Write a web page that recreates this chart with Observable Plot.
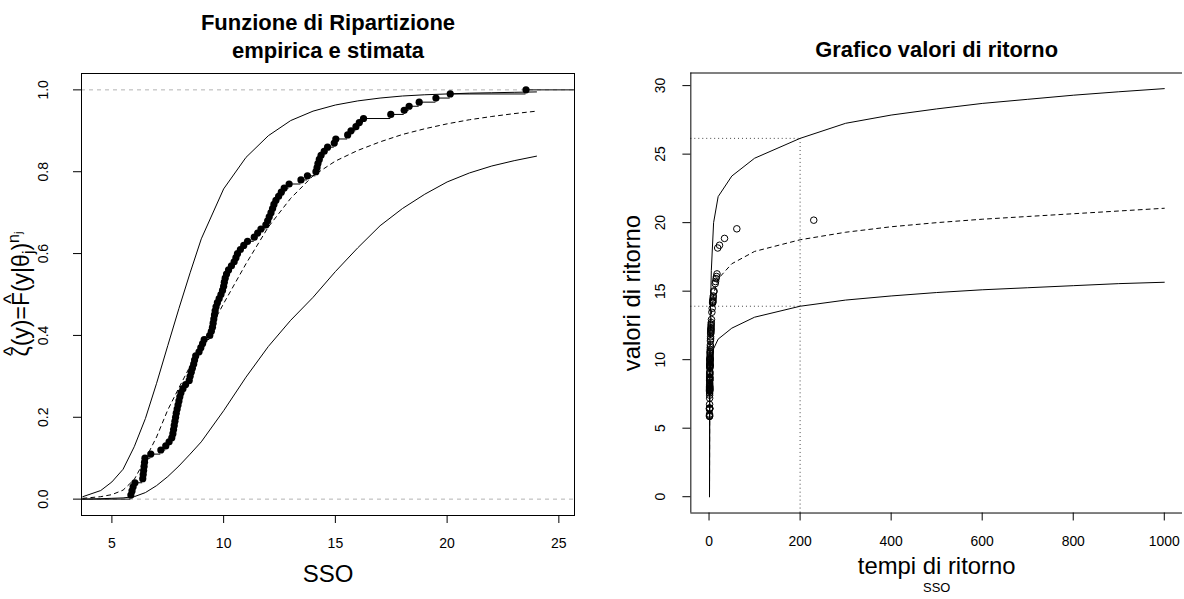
<!DOCTYPE html>
<html><head><meta charset="utf-8">
<script src="https://cdn.jsdelivr.net/npm/d3@7"></script>
<script src="https://cdn.jsdelivr.net/npm/@observablehq/plot@0.6"></script>
<style>
html,body{margin:0;padding:0;background:#fff;}
#wrap{display:flex;width:1184px;height:599px;overflow:hidden;}
.panel{width:592px;height:599px;overflow:hidden;flex:none;}
svg{display:block;}
</style></head><body>
<div id="wrap"><div class="panel" id="left"></div><div class="panel" id="right"></div></div>
<script>
const FONT = "Liberation Sans, Arial, Helvetica, sans-serif";

// ---------- Left panel data ----------
const leftTitle1 = "Funzione di Ripartizione";
const leftTitle2 = "empirica e stimata";
const leftXLabel = "SSO";
const leftYLabelMain = "ζ(y)=F(y|θ";
const leftYLabelHatAt = [0, 5];   // characters carrying a hat: ζ and F
const leftYLabelSub = "j";
const leftYLabelClose = ")";
const leftYLabelSup = "n";
const leftYLabelSupSub = "j";
const leftXDomain = [3.64, 25.7];
const leftYDomain = [-0.04, 1.04];
const leftXTicks = [5, 10, 15, 20, 25];
const leftYTicks = [0, 0.2, 0.4, 0.6, 0.8, 1.0];
const leftYTickLabels = ["0.0", "0.2", "0.4", "0.6", "0.8", "1.0"];
const refLines = [0, 1];

// sorted observations (empirical CDF)
const sso = [
  5.85, 5.90, 5.95, 6.03, 6.38, 6.40, 6.42, 6.44, 6.46, 6.48,
  6.74, 7.19, 7.41, 7.56, 7.68, 7.73, 7.76, 7.79, 7.82, 7.85,
  7.88, 7.92, 7.96, 8.00, 8.04, 8.09, 8.18, 8.30, 8.46, 8.50,
  8.55, 8.60, 8.66, 8.70, 8.75, 8.90, 8.98, 9.06, 9.13, 9.38,
  9.45, 9.50, 9.53, 9.56, 9.59, 9.62, 9.66, 9.72, 9.80, 9.88,
  9.95, 10.00, 10.03, 10.07, 10.13, 10.22, 10.35, 10.47, 10.55, 10.62,
  10.75, 10.90, 11.07, 11.37, 11.52, 11.67, 11.89, 11.97, 12.04, 12.12,
  12.19, 12.25, 12.34, 12.46, 12.58, 12.71, 12.93, 13.46, 13.75, 14.13,
  14.18, 14.22, 14.28, 14.36, 14.50, 14.65, 14.95, 15.02, 15.55, 15.70,
  15.92, 16.07, 16.26, 17.48, 18.08, 18.30, 18.75, 19.50, 20.14, 23.53
];

// estimated CDF with bounds
const cdfX     = [3.7, 4.5, 5, 5.5, 6, 6.5, 7, 7.5, 8, 8.5, 9, 10, 11, 12, 13, 14, 15, 16, 17, 18, 19, 20, 21, 22, 23, 24];
const cdfUpper = [0.006, 0.021, 0.042, 0.073, 0.128, 0.197, 0.283, 0.375, 0.466, 0.553, 0.636, 0.758, 0.835, 0.888, 0.925, 0.948, 0.963, 0.973, 0.980, 0.985, 0.988, 0.990, 0.992, 0.993, 0.994, 0.995];
const cdfMid   = [0.002, 0.006, 0.011, 0.022, 0.048, 0.098, 0.152, 0.218, 0.272, 0.325, 0.376, 0.478, 0.575, 0.665, 0.735, 0.790, 0.826, 0.852, 0.873, 0.891, 0.905, 0.917, 0.927, 0.935, 0.942, 0.948];
const cdfLower = [0.000, 0.001, 0.002, 0.003, 0.006, 0.016, 0.033, 0.055, 0.081, 0.110, 0.140, 0.216, 0.298, 0.373, 0.437, 0.493, 0.556, 0.614, 0.668, 0.710, 0.745, 0.775, 0.797, 0.814, 0.827, 0.838];

// ---------- Right panel data ----------
const rightTitle = "Grafico valori di ritorno";
const rightXLabel = "tempi di ritorno";
const rightSub = "SSO";
const rightYLabel = "valori di ritorno";
const rightXDomain = [-40, 1040];
const rightYDomain = [-1.19, 30.92];
const rightXTicks = [0, 200, 400, 600, 800, 1000];
const rightYTicks = [0, 5, 10, 15, 20, 25, 30];

const rlT     = [1, 1.5, 2, 3, 5, 10, 20, 50, 100, 200, 300, 400, 500, 600, 700, 800, 900, 1000];
const rlUpper = [0, 9.5, 11.5, 13.5, 16.5, 20.0, 21.9, 23.4, 24.7, 26.15, 27.25, 27.85, 28.3, 28.7, 29.0, 29.3, 29.55, 29.78];
const rlMid   = [0, 8.3, 10.0, 11.8, 13.3, 14.8, 15.9, 17.0, 17.9, 18.75, 19.3, 19.7, 20.0, 20.25, 20.45, 20.65, 20.85, 21.05];
const rlLower = [0, 7.5, 8.8, 9.6, 10.2, 10.8, 11.5, 12.3, 13.1, 13.9, 14.35, 14.65, 14.9, 15.1, 15.25, 15.4, 15.55, 15.65];

const rlValue = [
  5.85, 5.90, 5.95, 6.03, 6.38, 6.40, 6.42, 6.44, 6.46, 6.48,
  6.74, 7.19, 7.41, 7.56, 7.68, 7.73, 7.76, 7.79, 7.82, 7.85,
  7.88, 7.92, 7.96, 8.00, 8.04, 8.09, 8.18, 8.30, 8.46, 8.50,
  8.55, 8.60, 8.66, 8.70, 8.75, 8.90, 8.98, 9.06, 9.13, 9.38,
  9.45, 9.50, 9.53, 9.56, 9.59, 9.62, 9.66, 9.72, 9.80, 9.88,
  9.95, 10.00, 10.03, 10.07, 10.13, 10.22, 10.35, 10.47, 10.55, 10.62,
  10.75, 10.90, 11.07, 11.37, 11.52, 11.67, 11.89, 11.97, 12.04, 12.12,
  12.19, 12.25, 12.34, 12.46, 12.58, 12.71, 12.93, 13.46, 13.75, 14.13,
  14.18, 14.22, 14.28, 14.36, 14.50, 14.65, 14.95, 15.02, 15.55, 15.70,
  15.92, 16.07, 16.26, 18.15, 18.35, 18.85, 19.55, 20.18
];
const rlPeriod = [
  1.1, 1.1, 1.1, 1.1, 1.2, 1.2, 1.2, 1.2, 1.2, 1.2,
  1.2, 1.3, 1.3, 1.3, 1.3, 1.3, 1.3, 1.3, 1.4, 1.4,
  1.4, 1.4, 1.4, 1.4, 1.4, 1.4, 1.5, 1.5, 1.5, 1.5,
  1.6, 1.6, 1.6, 1.6, 1.6, 1.7, 1.7, 1.7, 1.7, 1.8,
  1.8, 1.8, 1.9, 1.9, 1.9, 1.9, 1.9, 2.0, 2.0, 2.1,
  2.1, 2.1, 2.1, 2.2, 2.2, 2.3, 2.4, 2.4, 2.5, 2.6,
  2.7, 2.8, 2.9, 3.1, 3.3, 3.4, 3.7, 3.8, 3.9, 4.0,
  4.1, 4.2, 4.4, 4.5, 4.7, 4.9, 5.3, 6.2, 6.9, 7.9,
  8.0, 8.1, 8.3, 8.5, 8.9, 9.4, 10.5, 10.8, 13.5, 14.3,
  15.5, 16.4, 17.5, 19, 23, 34, 61, 230
];
const guideT = 200;
const guideUpper = 26.15;
const guideLower = 13.9;

// ---------- Build left panel ----------
const n = sso.length;
const ecdfPts = sso.map((v, i) => ({x: v, y: (i + 1) / n}));
const ecdfSteps = [{x1: leftXDomain[0], x2: sso[0], y: 0}].concat(
  sso.map((v, i) => ({x1: v, x2: i < n - 1 ? sso[i + 1] : leftXDomain[1], y: (i + 1) / n}))
);
const curve = (xs, ys) => xs.map((x, i) => ({x, y: ys[i]}));

const TICK = 14, LAB = 24, TITLE = 22, SUB = 13;

const left = Plot.plot({
  width: 592, height: 599,
  marginLeft: 81, marginRight: 18, marginTop: 73, marginBottom: 84,
  style: {fontFamily: FONT, background: "#fff", color: "#000"},
  x: {domain: leftXDomain, axis: null},
  y: {domain: leftYDomain, axis: null},
  marks: [
    Plot.ruleY(refLines, {stroke: "#b3b3b3", strokeDasharray: "4,4", strokeWidth: 1}),
    Plot.line(curve(cdfX, cdfUpper), {x: "x", y: "y", stroke: "#000", strokeWidth: 1}),
    Plot.line(curve(cdfX, cdfLower), {x: "x", y: "y", stroke: "#000", strokeWidth: 1}),
    Plot.line(curve(cdfX, cdfMid), {x: "x", y: "y", stroke: "#000", strokeWidth: 1, strokeDasharray: "4,4"}),
    Plot.ruleY(ecdfSteps, {y: "y", x1: "x1", x2: "x2", stroke: "#000", strokeWidth: 1}),
    Plot.dot(ecdfPts, {x: "x", y: "y", r: 3.6, fill: "#000", stroke: "none"}),
    Plot.frame({stroke: "#000", strokeWidth: 1}),
    Plot.axisX({ticks: leftXTicks, tickSize: 8, tickPadding: 15, fontSize: TICK, tickFormat: d => String(d), label: null}),
    Plot.axisY({ticks: leftYTicks, tickSize: 8, tickFormat: () => "", label: null}),
    Plot.text(leftYTicks, {y: d => d, text: (d, i) => leftYTickLabels[i], frameAnchor: "left", dx: -34, rotate: -90, textAnchor: "middle", lineAnchor: "bottom", fontSize: TICK}),
    Plot.text([leftXLabel], {text: d => d, frameAnchor: "bottom", dy: 59, lineAnchor: "middle", fontSize: LAB}),
    Plot.text([leftTitle1], {text: d => d, frameAnchor: "top", dy: -51, lineAnchor: "middle", fontSize: TITLE, fontWeight: "bold"}),
    Plot.text([leftTitle2], {text: d => d, frameAnchor: "top", dy: -23, lineAnchor: "middle", fontSize: TITLE, fontWeight: "bold"})
  ]
});
document.getElementById("left").appendChild(left);
// y-axis math label (with hats over ζ and F)
{
  const cy = (73 + 515) / 2;
  const g = d3.select(left).append("g")
    .attr("transform", `translate(29,${cy}) rotate(-90)`)
    .attr("font-family", FONT).attr("fill", "#000");
  const t = g.append("text").attr("text-anchor", "middle").attr("font-size", 23);
  t.append("tspan").text(leftYLabelMain);
  t.append("tspan").attr("font-size", 16).attr("dy", 5).text(leftYLabelSub);
  t.append("tspan").attr("dy", -5).text(leftYLabelClose);
  t.append("tspan").attr("font-size", 16).attr("dy", -10).text(leftYLabelSup);
  t.append("tspan").attr("font-size", 11).attr("dy", 3).text(leftYLabelSupSub);
  for (const k of leftYLabelHatAt) {
    const e = t.node().getExtentOfChar(k);
    g.append("text").attr("text-anchor", "middle").attr("font-size", 20)
      .attr("x", e.x + e.width / 2).attr("y", -11).text("^");
  }
}

// ---------- Build right panel ----------
const rlPts = rlValue.map((v, i) => ({x: rlPeriod[i], y: v}));
const right = Plot.plot({
  width: 596, height: 599,
  marginLeft: 99, marginRight: 2, marginTop: 73, marginBottom: 83,
  style: {fontFamily: FONT, background: "#fff", color: "#000"},
  x: {domain: rightXDomain, axis: null},
  y: {domain: rightYDomain, axis: null},
  marks: [
    Plot.ruleY([guideUpper, guideLower], {x1: rightXDomain[0], x2: guideT, stroke: "#444", strokeDasharray: "1,3", strokeWidth: 1}),
    Plot.ruleX([guideT], {y1: rightYDomain[0], y2: guideUpper, stroke: "#444", strokeDasharray: "1,3", strokeWidth: 1}),
    Plot.line(curve(rlT, rlUpper), {x: "x", y: "y", stroke: "#000", strokeWidth: 1}),
    Plot.line(curve(rlT, rlLower), {x: "x", y: "y", stroke: "#000", strokeWidth: 1}),
    Plot.line(curve(rlT, rlMid), {x: "x", y: "y", stroke: "#000", strokeWidth: 1, strokeDasharray: "4,4"}),
    Plot.dot(rlPts, {x: "x", y: "y", r: 3.3, fill: "none", stroke: "#000", strokeWidth: 1}),
    // box: left, top and bottom sides only (right side falls outside the picture)
    Plot.ruleX([rightXDomain[0]], {stroke: "#000", strokeWidth: 1}),
    Plot.ruleY([rightYDomain[0], rightYDomain[1]], {stroke: "#000", strokeWidth: 1}),
    Plot.axisX({ticks: rightXTicks, tickSize: 8, tickPadding: 15, fontSize: TICK, tickFormat: d => String(d), label: null}),
    Plot.axisY({ticks: rightYTicks, tickSize: 8, tickFormat: () => "", label: null}),
    Plot.text(rightYTicks, {y: d => d, text: d => String(d), frameAnchor: "left", dx: -26, rotate: -90, textAnchor: "middle", lineAnchor: "bottom", fontSize: TICK}),
    Plot.text([rightYLabel], {text: d => d, frameAnchor: "left", dx: -51, rotate: -90, textAnchor: "middle", lineAnchor: "bottom", fontSize: LAB}),
    Plot.text([rightXLabel], {text: d => d, frameAnchor: "bottom", dy: 54, lineAnchor: "middle", fontSize: LAB}),
    Plot.text([rightSub], {text: d => d, frameAnchor: "bottom", dy: 75, lineAnchor: "middle", fontSize: SUB}),
    Plot.text([rightTitle], {text: d => d, frameAnchor: "top", dy: -23, lineAnchor: "middle", fontSize: TITLE, fontWeight: "bold"})
  ]
});
document.getElementById("right").appendChild(right);
</script>
</body></html>
